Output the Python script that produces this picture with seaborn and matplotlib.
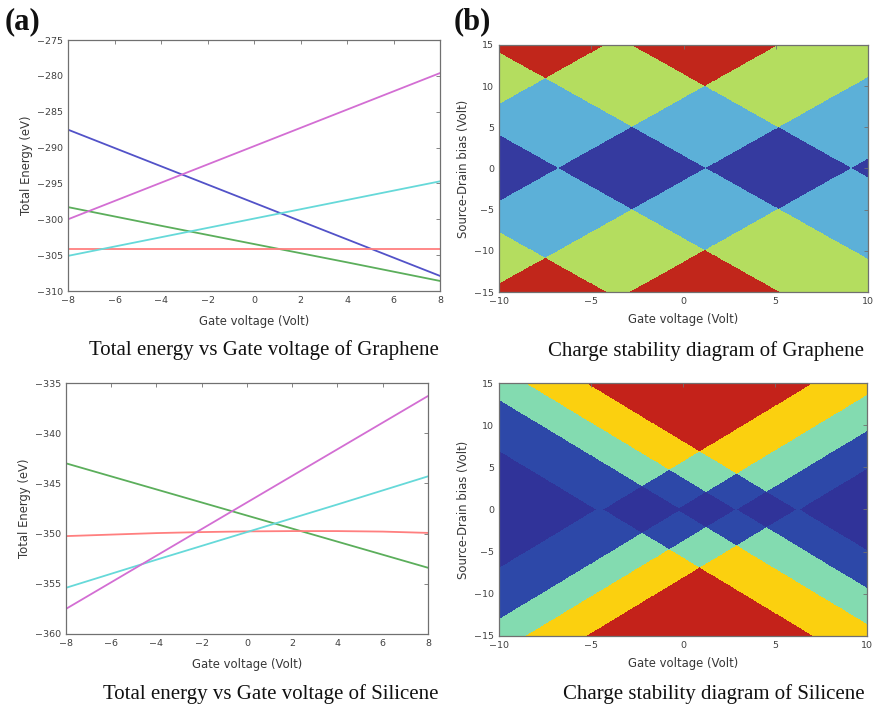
import numpy as np
import pandas as pd
import matplotlib
matplotlib.use("Agg")
import matplotlib.pyplot as plt
from matplotlib.colors import ListedColormap
import seaborn as sns

# ---------------- data ----------------
gate_v = [-8, -4, 0, 4, 8]
gate_v_fine = [-8, -6, -4, -2, 0, 2, 4, 6, 8]

# Graphene total energies (eV)
gr_blue = [-287.5, -292.6, -297.7, -302.8, -307.9]
gr_green = [-298.3, -300.9, -303.45, -306.0, -308.6]
gr_red = [-304.2, -304.2, -304.2, -304.2, -304.2]
gr_cyan = [-305.1, -302.5, -299.9, -297.3, -294.7]
gr_magenta = [-300.0, -294.9, -289.8, -284.7, -279.6]

# Silicene total energies (eV)
si_green = [-343.0, -345.6, -348.2, -350.8, -353.4]
si_red = [-350.25, -350.1, -349.95, -349.85, -349.78, -349.75, -349.75, -349.8, -349.93]
si_cyan = [-355.4, -352.6, -349.85, -347.1, -344.3]
si_magenta = [-357.5, -352.2, -346.9, -341.6, -336.3]

# Charge stability diagrams: gate voltages where the rising / falling
# diamond edges reach zero bias, and the edge slope
gr_rise = [-16.2, -6.8, 1.2, 9.1]
gr_fall = [-16.2, -6.8, 1.2, 9.1]
gr_slope = 1.25
si_rise = [-4.35, -0.35, 2.9, 6.3]
si_fall = [-4.75, -0.15, 2.8, 6.1]
si_slope = 1.32

gr_colors = ["#353A9F", "#5CB0D8", "#B4DD5F", "#C1261B"]
si_colors = ["#303399", "#2D48A8", "#83DBB0", "#FBD00F", "#C4221A"]

line_colors = {"b": "#5252C8", "g": "#5BAE5B", "r": "#FF7F7F",
               "c": "#66D9D9", "m": "#D36ED3"}

# ---------------- style ----------------
sns.set_theme(style="white")
plt.rcParams["font.family"] = ["DejaVu Sans"]

fig = plt.figure(figsize=(8.75, 7.06), dpi=100)

ax_tl = fig.add_axes([0.0777, 0.5878, 0.4253, 0.3555])
ax_tr = fig.add_axes([0.5703, 0.5864, 0.4217, 0.3499])
ax_bl = fig.add_axes([0.0754, 0.1020, 0.4136, 0.3555])
ax_br = fig.add_axes([0.5703, 0.0992, 0.4207, 0.3583])

tick_col = "#404040"
lab_col = "#383838"


def minus(t):
    return f"\u2212{abs(t)}" if t < 0 else str(t)


def style(ax):
    for s in ax.spines.values():
        s.set_color("#707070")
        s.set_linewidth(0.9)
    ax.tick_params(direction="in", top=True, right=True, length=3,
                   width=0.6, color="#707070", labelsize=6.8,
                   labelcolor=tick_col)
    ax.tick_params(axis="x", pad=3.6)
    ax.tick_params(axis="y", pad=3.4)


def energy_panel(ax, series, ylim, yticks):
    for xs, ys, c in series:
        sns.lineplot(x=xs, y=ys, color=line_colors[c], lw=1.3, ax=ax)
    ax.set_xlim(-8, 8)
    ax.set_ylim(*ylim)
    xt = list(range(-8, 9, 2))
    ax.set_xticks(xt)
    ax.set_xticklabels([minus(t) for t in xt])
    ax.set_yticks(yticks)
    ax.set_yticklabels([minus(t) for t in yticks])
    ax.set_xlabel("Gate voltage (Volt)", fontsize=8.4, color=lab_col, labelpad=7)
    ax.set_ylabel("Total Energy (eV)", fontsize=8.4, color=lab_col, labelpad=3)
    style(ax)


energy_panel(ax_tl, [(gate_v, gr_blue, "b"), (gate_v, gr_green, "g"),
                     (gate_v, gr_red, "r"), (gate_v, gr_cyan, "c"),
                     (gate_v, gr_magenta, "m")],
             (-310, -275), list(range(-310, -274, 5)))
energy_panel(ax_bl, [(gate_v, si_green, "g"), (gate_v_fine, si_red, "r"),
                     (gate_v, si_cyan, "c"), (gate_v, si_magenta, "m")],
             (-360, -335), list(range(-360, -334, 5)))

vg = np.linspace(-10, 10, 1101)
vsd = np.linspace(-15, 15, 901)
G, V = np.meshgrid(vg, vsd)


def levels(rise, fall, slope):
    A = np.abs(V)
    n = np.zeros(G.shape, dtype=int)
    for r, f in zip(rise, fall):
        n += ((A >= slope * (G - r)) & (A >= slope * (f - G))).astype(int)
    return n


def stability_panel(ax, rise, fall, slope, colors):
    n = levels(rise, fall, slope)
    ax.imshow(n, origin="lower", extent=[-10, 10, -15, 15], aspect="auto",
              cmap=ListedColormap(colors), vmin=-0.5, vmax=len(colors) - 0.5,
              interpolation="nearest")
    ax.set_xlim(-10, 10)
    ax.set_ylim(-15, 15)
    xt = [-10, -5, 0, 5, 10]
    yt = [-15, -10, -5, 0, 5, 10, 15]
    ax.set_xticks(xt)
    ax.set_xticklabels([minus(t) for t in xt])
    ax.set_yticks(yt)
    ax.set_yticklabels([minus(t) for t in yt])
    ax.set_xlabel("Gate voltage (Volt)", fontsize=8.4, color=lab_col, labelpad=5)
    ax.set_ylabel("Source-Drain bias (Volt)", fontsize=8.4, color=lab_col, labelpad=3)
    style(ax)
    ax.grid(False)


stability_panel(ax_tr, gr_rise, gr_fall, gr_slope, gr_colors)
stability_panel(ax_br, si_rise, si_fall, si_slope, si_colors)

serif = ["Liberation Serif", "DejaVu Serif"]
cap = dict(fontsize=15, family=serif, color="#111111", ha="center", va="center")
fig.text(264 / 875, 1 - 350 / 706, "Total energy vs Gate voltage of Graphene", **cap)
fig.text(706 / 875, 1 - 351 / 706, "Charge stability diagram of Graphene", **cap)
fig.text(271 / 875, 1 - 694 / 706, "Total energy vs Gate voltage of Silicene", **cap)
fig.text(714 / 875, 1 - 694 / 706, "Charge stability diagram of Silicene", **cap)

fig.text(5 / 875, 1 - 22 / 706, "(a)", fontsize=22, fontweight="bold",
         family=serif, ha="left", va="center", color="#111111")
fig.text(454 / 875, 1 - 22 / 706, "(b)", fontsize=22, fontweight="bold",
         family=serif, ha="left", va="center", color="#111111")

fig.savefig("out.png", dpi=100)
